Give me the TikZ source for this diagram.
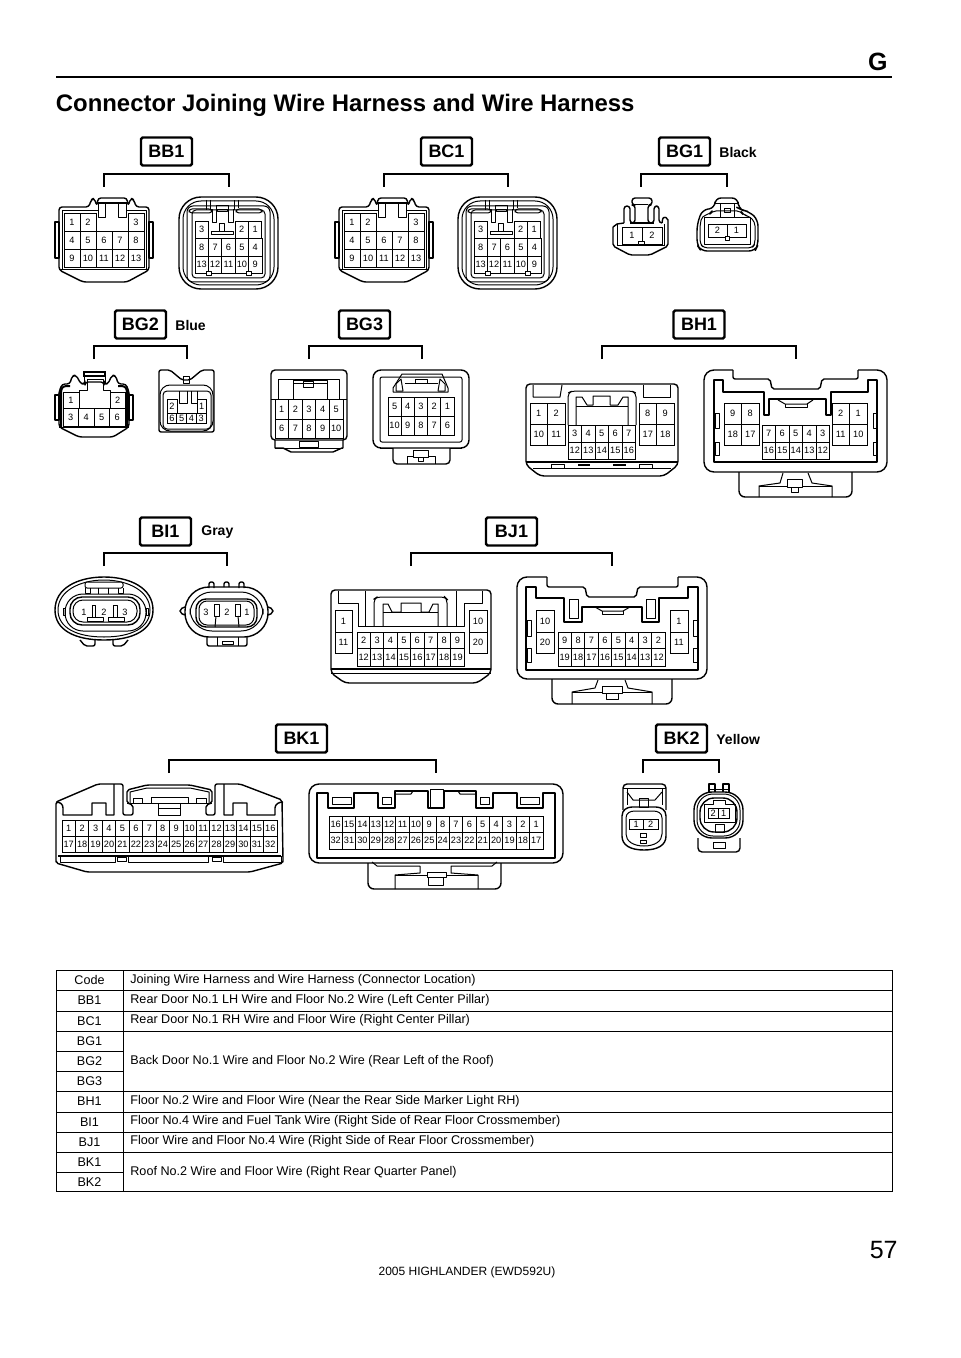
\documentclass[tikz,border=0pt]{standalone}
\usepackage{fontspec}
\setmainfont{Liberation Sans}
\usetikzlibrary{positioning}
\tikzset{
  pin/.style={draw=black,line width=0.4pt,inner sep=0pt,outer sep=0pt,font=\fontsize{4.6}{5}\selectfont},
  shell/.style={line width=0.7pt,line join=round},
  detail/.style={line width=0.5pt,line join=round},
  bracket/.style={line width=0.7pt},
  tagbox/.style={draw=black,line width=1.2pt,rounded corners=0.8pt,minimum width=25.5pt,minimum height=14pt,inner sep=0pt,font=\fontsize{9}{10}\selectfont\bfseries},
  tagnote/.style={anchor=west,inner sep=0pt,font=\fontsize{7}{8}\selectfont\bfseries},
  rowtext/.style={inner sep=0pt,font=\fontsize{6.3}{7}\selectfont},
  bittext/.style={inner sep=0pt,font=\fontsize{4.6}{5}\selectfont},
}
% one row of numbered cells
\newcommand{\pinrow}[6]{
  \foreach \lab [count=\i from 0] in {#6}
    \node[pin,minimum width=#4*0.5pt,minimum height=#5*0.5pt] (#1-\lab) at ({#2+(\i+0.5)*#4},{#3+#5/2}) {\lab};
}
% bracket between the two halves of a connector
\newcommand{\pairbracket}[4]{
  \coordinate (#1l) at (#2,#4);
  \coordinate (#1r) at (#3,#4);
  \draw[bracket] (#1l) -- ++(0,-13) -| (#1r);
}
% 13 pin plug and socket, used twice
\newcommand{\plugThirteen}[1]{
  \draw[shell,rounded corners=1.5pt] (59,258) -- (59,207) -- (89,207) -- (91,200) -- (94,198) -- (97,206) -- (98,198) -- (127,198) -- (128,206) -- (131,198) -- (134,200) -- (136,207) -- (149,207) -- (149,258) -- (149,270) -- (127,282) -- (83,282) -- (59,270) -- cycle;
  \draw[detail] (59,270) -- (149,270);
  \draw[detail] (62,270) -- (62,211) -- (98,211);
  \draw[detail] (127,211) -- (146,211) -- (146,270);
  \draw[shell] (55,222) rectangle (59,258);
  \draw[shell] (149,222) rectangle (153,258);
  \draw[shell] (98,203) -- (127,203);
  \draw[detail] (98,203) -- (98,218) -- (105,218) -- (105,203);
  \draw[detail] (118,203) -- (118,218) -- (126,218) -- (126,203);
  \draw[detail] (96,213) -- (96,231);
  \pinrow{#1}{64}{213}{16}{18}{1,2}
  \pinrow{#1}{128}{213}{16}{18}{3}
  \pinrow{#1}{64}{231}{16}{18}{4,5,6,7,8}
  \pinrow{#1}{64}{249}{16}{18}{9,10,11,12,13}
}
\newcommand{\socketThirteen}[1]{
  \draw[shell,rounded corners=11pt] (179,197) rectangle (278,289);
  \draw[detail,rounded corners=9pt] (183,201) rectangle (274,285);
  \draw[detail,rounded corners=3pt] (187,206) rectangle (270,282);
  \draw[detail,rounded corners=2pt] (192,210) rectangle (265,278);
  \draw[detail,rounded corners=1.5pt] (189,209) rectangle (212,213);
  \draw[detail,rounded corners=1.5pt] (236,209) rectangle (262,213);
  \draw[detail] (206,200) -- (206,210);
  \draw[detail] (210,200) -- (210,210) -- (212,210) -- (212,223) -- (216,223) -- (216,206) -- (228,206) -- (228,223) -- (233,223) -- (233,210) -- (234,210) -- (234,200);
  \draw[detail] (238,200) -- (238,208);
  \draw[detail] (217,210) rectangle (227,212);
  \draw[detail] (211,232) rectangle (233,235);
  \draw[detail] (219,224) rectangle (224,232);
  \pinrow{#1}{195}{221}{13.4}{17.5}{3}
  \pinrow{#1}{235}{221}{13.4}{17.5}{2,1}
  \pinrow{#1}{195}{238.5}{13.4}{17.5}{8,7,6,5,4}
  \pinrow{#1}{195}{256}{13.4}{17.5}{13,12,11,10,9}
  \draw[detail,fill=white] (206,272) rectangle (211,276);
  \draw[detail,fill=white] (246,272) rectangle (251,276);
}
\begin{document}
\begin{tikzpicture}[x=0.5pt,y=-0.5pt]
\useasboundingbox (0,0) rectangle (960,1358);
% page head
\node[anchor=east,inner sep=0pt,font=\fontsize{12.5}{14}\selectfont\bfseries] (pagecode) at (888,62) {G};
\coordinate (rulel) at (56,77);
\coordinate (ruler) at (892,77);
\draw[line width=1.2pt] (rulel) -- (ruler);
\node[anchor=west,inner sep=0pt,font=\fontsize{11.95}{14}\selectfont\bfseries] (title) at (55.5,105) {Connector Joining Wire Harness and Wire Harness};

% BB1
\node[tagbox] (tagBB1) at (166.5,151.5) {BB1};
\pairbracket{bb1}{104}{229}{187}
\plugThirteen{bb1a}
\socketThirteen{bb1b}

% BC1
\node[tagbox] (tagBC1) at (446.5,151.5) {BC1};
\pairbracket{bc1}{384}{508}{187}
\begin{scope}[xshift=140pt]
  \plugThirteen{bc1a}
\end{scope}
\begin{scope}[xshift=139.5pt]
  \socketThirteen{bc1b}
\end{scope}

% BG1
\node[tagbox] (tagBG1) at (684.5,151.5) {BG1};
\node[tagnote] (noteBG1) at (719,152) {Black};
\pairbracket{bg1}{641}{727}{187}
\draw[shell,rounded corners=1pt] (613,227) -- (613,246) -- (630,255) -- (650,255) -- (668,246) -- (668,218) -- (663,217) -- (662,223);
\draw[shell] (613,227) -- (617,224) -- (624,223);
\draw[shell,rounded corners=1.5pt] (624,223) -- (624,206) -- (630,206) -- (630,223) -- (635,223) -- (635,205) -- (632,205) -- (632,198) -- (652,198) -- (652,205) -- (648,205) -- (648,223) -- (654,223) -- (654,206) -- (659,206) -- (659,223) -- (662,223);
\draw[detail] (635,205) -- (648,205);
\draw[detail] (617,224) -- (617,246);
\draw[detail] (664,224) -- (664,246);
\draw[detail] (617,246) -- (664,246);
\draw[shell] (630,223) -- (654,223);
\pinrow{bg1a}{622}{227}{20}{17}{1,2}
\draw[detail,fill=white] (638,242) rectangle (644,245);
\draw[shell,rounded corners=3pt] (697,225) -- (697,245) -- (701,251) -- (755,251) -- (758,245) -- (758,220) -- (750,212) -- (742,210) -- (738,208) -- (738,198) -- (715,198) -- (715,208) -- (702,210) -- cycle;
\draw[detail,rounded corners=2pt] (700,225) -- (700,244) -- (704,248) -- (752,248) -- (755,244) -- (755,222) -- (749,216) -- (743,215) -- (741,211) -- (712,211) -- (710,214) -- (702,216) -- cycle;
\draw[detail] (715,204) -- (738,204);
\draw[detail] (724,209) rectangle (730,213);
\draw[detail] (720,204) -- (720,218) -- (734,218) -- (734,204);
\draw[detail] (704,218) rectangle (750,245);
\pinrow{bg1b}{708}{224}{19}{13}{2,1}
\draw[detail,fill=white] (725,237) rectangle (729,241);

% BG2
\node[tagbox] (tagBG2) at (140.5,324.5) {BG2};
\node[tagnote] (noteBG2) at (175,325) {Blue};
\pairbracket{bg2}{94}{187}{359}
\draw[shell,rounded corners=1.5pt] (59,392) -- (59,427) -- (79,437) -- (113,437) -- (129,427) -- (129,392) -- (126,384) -- (118,384) -- (116,376) -- (112,375) -- (108,384) -- (104,384) -- (104,382) -- (85,382) -- (85,384) -- (81,384) -- (76,375) -- (72,376) -- (70,384) -- (62,384) -- cycle;
\draw[line width=1pt,rounded corners=1.5pt] (61,427) -- (61,390) -- (63,386) -- (70,386);
\draw[line width=1pt,rounded corners=1.5pt] (127,427) -- (127,390) -- (125,386) -- (118,386);
\draw[detail] (59,427) -- (129,427);
\draw[shell] (55,395) rectangle (59,420);
\draw[shell] (129,395) rectangle (133,420);
\draw[line width=1.2pt] (84,372) rectangle (105,376);
\draw[detail] (84,376) -- (84,383);
\draw[detail] (105,376) -- (105,383);
\draw[detail] (79,408) -- (79,390) -- (87,390) -- (87,379) -- (103,379) -- (103,390) -- (110,390) -- (110,408);
\pinrow{bg2a}{63}{392}{16}{16}{1}
\pinrow{bg2a}{110}{392}{15.5}{16}{2}
\pinrow{bg2a}{63}{408}{15.5}{18}{3,4,5,6}
\draw[shell,rounded corners=1pt] (159,432) -- (159,370) -- (170,370) -- (182,380) -- (190,380) -- (202,370) -- (214,370) -- (214,432) -- cycle;
\draw[detail,rounded corners=5pt] (160,385) -- (213,385) -- (213,431) -- (160,431) -- cycle;
\draw[detail,rounded corners=2pt] (163,391) rectangle (211,429);
\draw[detail] (183,376) rectangle (189,383);
\draw[detail] (179,391) -- (179,403) -- (187,403) -- (187,391);
\draw[detail] (191,391) -- (191,403) -- (197,403) -- (197,391);
\pinrow{bg2b}{167}{399}{10}{14}{2}
\pinrow{bg2b}{197}{399}{9.5}{14}{1}
\pinrow{bg2b}{167}{413}{9.8}{10}{6,5,4,3}

% BG3
\node[tagbox] (tagBG3) at (364.5,324.5) {BG3};
\pairbracket{bg3}{309}{422}{359}
\draw[shell,rounded corners=2pt] (271,370) rectangle (347,440);
\draw[detail] (278,399) -- (278,379) -- (339,379) -- (339,399);
\draw[detail] (293,399) -- (293,380) -- (327,380) -- (327,399);
\draw[detail] (293,383) -- (327,383);
\draw[detail] (303,381) rectangle (313,387);
\draw[detail] (271,399) -- (347,399);
\pinrow{bg3a}{275}{399}{13.6}{20}{1,2,3,4,5}
\pinrow{bg3a}{275}{419}{13.6}{19.5}{6,7,8,9,10}
\draw[shell] (275,440) -- (275,448) -- (283,448) -- (291,452) -- (333,452) -- (342,448) -- (343,448) -- (343,440);
\draw[detail] (275,448) -- (343,448);
\draw[detail] (299,441) rectangle (318,447);
\draw[shell,rounded corners=4pt] (373,370) rectangle (469,448);
\draw[detail,rounded corners=1pt] (380,377) rectangle (462,442);
\draw[detail] (393,392) -- (393,388) -- (402,374) -- (442,374) -- (448,388) -- (448,392) -- cycle;
\draw[detail] (396,391) -- (396,384) -- (401,379) -- (403,391) -- cycle;
\draw[detail] (445,391) -- (445,384) -- (440,379) -- (438,391) -- cycle;
\draw[detail] (405,383) -- (438,383);
\draw[detail] (415,379) rectangle (427,383);
\pinrow{bg3b}{388}{397}{13.2}{19}{5,4,3,2,1}
\pinrow{bg3b}{388}{416}{13.2}{19}{10,9,8,7,6}
\draw[shell,rounded corners=2pt] (393,448) -- (393,464) -- (450,464) -- (450,448);
\draw[detail] (407,464) -- (407,456) -- (413,456);
\draw[detail] (428,456) -- (435,456) -- (435,464);
\draw[detail] (413,450) rectangle (428,457);
\draw[detail] (418,457) rectangle (423,461);
\draw[detail] (380,448) -- (393,448);
\draw[detail] (450,448) -- (462,448);

% BH1
\node[tagbox] (tagBH1) at (699,324.5) {BH1};
\pairbracket{bh1}{602}{796}{359}
\draw[shell,rounded corners=2pt] (526,465) -- (526,384) -- (678,384) -- (678,465) -- (664,476) -- (540,476) -- cycle;
\draw[detail] (533,385) -- (533,397) -- (560,397) -- (562,385);
\draw[detail] (643,385) -- (643,397) -- (670,397) -- (670,385);
\draw[detail,rounded corners=2pt] (568,425) -- (568,393) -- (572,391) -- (632,391) -- (636,393) -- (636,425);
\draw[detail] (576,425) -- (576,397) -- (582,397) -- (587,405) -- (593,405) -- (593,396) -- (610,396) -- (610,405) -- (618,405) -- (623,397) -- (628,397) -- (628,425);
\draw[detail] (576,406) -- (628,406);
\pinrow{bh1a}{530}{403}{17.5}{21}{1,2}
\pinrow{bh1a}{530}{424}{17.5}{21}{10,11}
\pinrow{bh1a}{568}{425}{13.5}{17}{3,4,5,6,7}
\pinrow{bh1a}{568}{442}{13.5}{17}{12,13,14,15,16}
\pinrow{bh1a}{639}{403}{17.5}{21}{8,9}
\pinrow{bh1a}{639}{424}{17.5}{21}{17,18}
\draw[shell] (526,462) -- (678,462);
\draw[detail] (533,468) -- (671,468);
\draw[detail] (551,464) rectangle (564,468);
\draw[detail] (639,464) rectangle (652,468);
\draw[line width=1pt] (578,465) -- (590,465);
\draw[line width=1pt] (613,465) -- (626,465);
\draw[shell,rounded corners=5pt] (733,370) -- (704,370) -- (704,472) -- (887,472) -- (887,370) -- (858,370);
\draw[shell,rounded corners=1pt] (733,370) -- (733,379) -- (770,379) -- (772,389) -- (820,389) -- (822,379) -- (858,379) -- (858,370);
\draw[shell] (714,380) -- (723,380) -- (723,392) -- (764,392) -- (764,415) -- (769,415) -- (769,399) -- (826,399) -- (826,415) -- (831,415) -- (831,392) -- (868,392) -- (868,380) -- (877,380) -- (877,462) -- (714,462) -- cycle;
\draw[detail] (778,400) -- (785,404) -- (807,404) -- (813,400);
\draw[detail] (785,404) -- (785,407) -- (807,407) -- (807,404);
\draw[detail] (715,413) rectangle (719,428);
\draw[detail] (715,442) rectangle (719,455);
\draw[detail] (873,413) rectangle (877,428);
\draw[detail] (873,442) rectangle (877,455);
\pinrow{bh1b}{724}{403}{17.5}{21}{9,8}
\pinrow{bh1b}{724}{424}{17.5}{21}{18,17}
\pinrow{bh1b}{762}{425}{13.5}{17}{7,6,5,4,3}
\pinrow{bh1b}{762}{442}{13.5}{17}{16,15,14,13,12}
\pinrow{bh1b}{832}{403}{17.5}{21}{2,1}
\pinrow{bh1b}{832}{424}{17.5}{21}{11,10}
\draw[shell,rounded corners=3pt] (739,472) -- (739,497) -- (852,497) -- (852,472);
\draw[detail] (759,497) -- (759,486) -- (780,483) -- (783,473);
\draw[detail] (832,497) -- (832,486) -- (812,483) -- (808,473);
\draw[detail] (759,486) -- (787,486);
\draw[detail] (802,486) -- (832,486);
\draw[detail] (787,479) rectangle (802,487);
\draw[detail] (791,487) rectangle (798,492);

% BI1
\node[tagbox] (tagBI1) at (165.5,531.5) {BI1};
\node[tagnote] (noteBI1) at (201,532) {Gray};
\pairbracket{bi1}{104}{227}{566}
\draw[shell] (55,610) .. controls (55,588) and (78,577) .. (104,577) .. controls (130,577) and (153,588) .. (153,610) .. controls (153,630) and (133,640) .. (104,640) .. controls (75,640) and (55,630) .. (55,610) -- cycle;
\draw[detail] (58,610) .. controls (58,591) and (80,580) .. (104,580) .. controls (128,580) and (150,591) .. (150,610) .. controls (150,628) and (131,637) .. (104,637) .. controls (77,637) and (58,628) .. (58,610) -- cycle;
\draw[detail,rounded corners=9pt] (65,594) rectangle (146,631);
\draw[shell,rounded corners=6pt] (70,597) rectangle (140,625);
\draw[detail,rounded corners=5pt] (73,600) rectangle (137,622);
\draw[detail,rounded corners=1pt,fill=white] (85,582) rectangle (123,588);
\draw[detail] (85,588) -- (85,593) -- (90,593) -- (90,588);
\draw[detail] (118,588) -- (118,593) -- (123,593) -- (123,588);
\draw[detail] (98,588) -- (98,594);
\draw[detail] (108,588) -- (108,594);
\draw[detail] (92,605) rectangle (95,617);
\draw[detail] (113,605) rectangle (117,617);
\draw[detail] (87,617) rectangle (103,621);
\draw[detail] (108,617) rectangle (124,621);
\draw[detail] (63,608) rectangle (65,615);
\draw[detail] (146,608) rectangle (148,615);
\draw[shell,rounded corners=1pt] (80,640) -- (85,646) -- (95,646) -- (95,640);
\draw[shell,rounded corners=1pt] (113,640) -- (113,646) -- (123,646) -- (128,640);
\node[bittext] (bi1a-1) at (84,612) {1};
\node[bittext] (bi1a-2) at (104,612) {2};
\node[bittext] (bi1a-3) at (125,612) {3};
\draw[shell,rounded corners=12pt] (185,587) rectangle (268,637);
\draw[detail,rounded corners=11pt] (190,592) rectangle (263,631);
\draw[shell,rounded corners=5pt] (196,599) rectangle (257,627);
\draw[detail,rounded corners=4pt] (199,601) rectangle (254,625);
\draw[shell,rounded corners=1pt] (185,607) -- (180,609) -- (180,613) -- (185,615);
\draw[shell,rounded corners=1pt] (268,607) -- (273,609) -- (273,613) -- (268,615);
\draw[shell,rounded corners=1pt] (209,588) -- (209,582) -- (214,582) -- (214,588);
\draw[shell,rounded corners=1pt] (224,587) -- (224,582) -- (229,582) -- (229,587);
\draw[shell,rounded corners=1pt] (239,588) -- (239,582) -- (244,582) -- (244,588);
\draw[shell,rounded corners=1pt] (207,637) -- (207,646) -- (247,646) -- (247,637);
\draw[detail] (217,637) -- (217,646);
\draw[detail] (238,637) -- (238,646);
\draw[detail] (222,641) rectangle (233,644);
\draw[detail] (214,604) rectangle (219,616);
\draw[detail] (235,604) rectangle (240,616);
\draw[detail] (216,616) -- (215,627);
\draw[detail] (238,616) -- (239,627);
\node[bittext] (bi1b-3) at (206,612) {3};
\node[bittext] (bi1b-2) at (227,612) {2};
\node[bittext] (bi1b-1) at (247,612) {1};

% BJ1
\node[tagbox] (tagBJ1) at (511.5,531.5) {BJ1};
\pairbracket{bj1}{411}{612}{566}
\draw[shell,rounded corners=2pt] (331,673) -- (331,590) -- (491,590) -- (491,673) -- (477,683) -- (345,683) -- cycle;
\draw[shell] (331,669) -- (491,669);
\draw[detail] (331,673) -- (491,673);
\draw[detail] (338,591) -- (338,603) -- (358,603) -- (358,626) -- (365,626) -- (365,591);
\draw[detail] (456,591) -- (456,626) -- (464,626) -- (464,603) -- (482,603) -- (482,591);
\draw[detail,rounded corners=2pt] (374,626) -- (374,599) -- (377,597) -- (445,597) -- (447,599) -- (447,626);
\draw[detail] (383,626) -- (383,604) -- (388,604) -- (392,612) -- (401,612) -- (401,603) -- (421,603) -- (421,612) -- (429,612) -- (433,604) -- (438,604) -- (438,626);
\draw[detail] (383,612) -- (438,612);
\draw[detail] (358,626) -- (464,626);
\pinrow{bj1a}{335}{610}{17}{22}{1}
\pinrow{bj1a}{335}{632}{17}{21}{11}
\pinrow{bj1a}{357}{632}{13.4}{16}{2,3,4,5,6,7,8,9}
\pinrow{bj1a}{357}{648}{13.4}{18}{12,13,14,15,16,17,18,19}
\pinrow{bj1a}{469}{610}{18}{22}{10}
\pinrow{bj1a}{469}{632}{18}{21}{20}
\draw[shell,rounded corners=5pt] (547,577) -- (517,577) -- (517,679) -- (707,679) -- (707,577) -- (678,577);
\draw[shell,rounded corners=1pt] (547,577) -- (547,587) -- (585,587) -- (587,597) -- (636,597) -- (638,587) -- (678,587) -- (678,577);
\draw[shell] (526,587) -- (536,587) -- (536,598) -- (564,598) -- (564,622) -- (582,622) -- (582,607) -- (642,607) -- (642,622) -- (659,622) -- (659,598) -- (688,598) -- (688,587) -- (698,587) -- (698,670) -- (526,670) -- cycle;
\draw[detail] (569,599) rectangle (578,618);
\draw[detail] (646,599) rectangle (655,618);
\draw[detail] (595,607) -- (602,611) -- (623,611) -- (630,607);
\draw[detail] (602,611) -- (602,614) -- (623,614) -- (623,611);
\draw[detail] (527,620) rectangle (531,636);
\draw[detail] (527,648) rectangle (531,662);
\draw[detail] (693,620) rectangle (697,636);
\draw[detail] (693,648) rectangle (697,662);
\pinrow{bj1b}{536}{610}{18}{22}{10}
\pinrow{bj1b}{536}{632}{18}{21}{20}
\pinrow{bj1b}{558}{632}{13.4}{16}{9,8,7,6,5,4,3,2}
\pinrow{bj1b}{558}{648}{13.4}{18}{19,18,17,16,15,14,13,12}
\pinrow{bj1b}{670}{610}{18}{22}{1}
\pinrow{bj1b}{670}{632}{18}{21}{11}
\draw[shell,rounded corners=3pt] (552,679) -- (552,704) -- (672,704) -- (672,679);
\draw[detail] (572,704) -- (572,692) -- (595,688) -- (598,680);
\draw[detail] (652,704) -- (652,692) -- (628,688) -- (625,680);
\draw[detail] (572,692) -- (602,692);
\draw[detail] (622,692) -- (652,692);
\draw[detail] (602,686) rectangle (622,693);
\draw[detail] (606,693) rectangle (618,699);

% BK1
\node[tagbox] (tagBK1) at (301.5,738.5) {BK1};
\pairbracket{bk1}{169}{436}{773}
\draw[shell,rounded corners=1pt] (56,860) -- (56,802) -- (98,784) -- (123,784) -- (123,815) -- (133,815) -- (133,805) -- (127,803) -- (127,790) -- (147,785) -- (190,785) -- (212,790) -- (212,803) -- (206,805) -- (206,815) -- (215,815) -- (215,784) -- (240,784) -- (282,800) -- (283,860) -- (283,863) -- (250,872) -- (87,872) -- (56,863) -- cycle;
\draw[shell] (114,784) -- (114,815) -- (106,815) -- (106,803) -- (92,803) -- (92,815) -- (63,815) -- (63,808) .. controls (63,804) and (60,802) .. (56,802);
\draw[shell] (224,784) -- (224,815) -- (233,815) -- (233,803) -- (247,803) -- (247,815) -- (275,815) -- (275,808) .. controls (275,804) and (279,802) .. (283,802);
\draw[detail] (127,803) -- (212,803);
\draw[detail] (130,803) -- (130,792) -- (147,788) -- (190,788) -- (209,792) -- (209,803);
\draw[detail] (151,797) rectangle (188,803);
\draw[detail] (133,798) rectangle (142,803);
\draw[detail] (196,798) rectangle (206,803);
\draw[detail] (158,803) -- (158,815) -- (180,815) -- (180,803);
\draw[detail] (158,808) -- (180,808);
\pinrow{bk1a}{62}{820}{13.44}{16}{1,2,3,4,5,6,7,8,9,10,11,12,13,14,15,16}
\pinrow{bk1a}{62}{836}{13.44}{16}{17,18,19,20,21,22,23,24,25,26,27,28,29,30,31,32}
\draw[shell] (58,856) -- (281,856);
\draw[detail] (60,856) -- (60,862) -- (115,862) -- (115,856);
\draw[detail] (128,856) -- (128,862) -- (208,862) -- (208,856);
\draw[detail] (223,856) -- (223,862) -- (281,862) -- (281,856);
\draw[detail] (117,857) rectangle (126,861);
\draw[detail] (212,857) rectangle (221,861);
\draw[shell,rounded corners=5pt] (309,784) rectangle (563,863);
\draw[shell] (317,793) -- (328,793) -- (328,808) -- (354,808) -- (354,793) -- (378,793) -- (378,808) -- (395,808) -- (395,791) -- (428,791) -- (428,808) -- (444,808) -- (444,791) -- (476,791) -- (476,808) -- (493,808) -- (493,793) -- (517,793) -- (517,808) -- (543,808) -- (543,793) -- (555,793) -- (555,858) -- (317,858) -- cycle;
\draw[detail] (332,797) rectangle (351,804);
\draw[detail] (382,797) rectangle (391,804);
\draw[detail] (480,797) rectangle (489,804);
\draw[detail] (520,797) rectangle (539,804);
\draw[detail] (430,789) rectangle (443,807);
\draw[detail] (395,794) -- (411,794) -- (413,791);
\draw[detail] (476,794) -- (460,794) -- (458,791);
\pinrow{bk1b}{329}{816}{13.37}{16.5}{16,15,14,13,12,11,10,9,8,7,6,5,4,3,2,1}
\pinrow{bk1b}{329}{832.5}{13.37}{16.5}{32,31,30,29,28,27,26,25,24,23,22,21,20,19,18,17}
\draw[shell,rounded corners=3pt] (368,863) -- (368,889) -- (501,889) -- (501,863);
\draw[detail] (372,862) -- (377,866) -- (420,866) -- (420,873) -- (395,875) -- (395,889);
\draw[detail] (497,862) -- (492,866) -- (451,866) -- (451,873) -- (478,875) -- (478,889);
\draw[detail] (395,875) -- (427,875);
\draw[detail] (446,875) -- (478,875);
\draw[detail] (427,872) rectangle (446,877);
\draw[detail] (428,877) rectangle (443,885);

% BK2
\node[tagbox] (tagBK2) at (681.5,738.5) {BK2};
\node[tagnote] (noteBK2) at (716,739) {Yellow};
\pairbracket{bk2}{643}{719}{773}
\draw[shell,rounded corners=2pt] (623,810) -- (623,784) -- (666,784) -- (666,810);
\draw[detail] (623,788) -- (666,788);
\draw[detail] (627,792) -- (633,800) -- (655,800) -- (662,792);
\draw[detail] (627,788) -- (627,805);
\draw[detail] (662,788) -- (662,805);
\draw[shell] (622,816) .. controls (622,810) and (627,807) .. (632,807) -- (656,807) .. controls (661,807) and (666,810) .. (666,816) -- (666,836) .. controls (666,845) and (658,850) .. (644,850) .. controls (630,850) and (622,845) .. (622,836) -- cycle;
\draw[detail] (626,818) .. controls (626,813) and (630,811) .. (635,811) -- (653,811) .. controls (658,811) and (662,813) .. (662,818) -- (662,834) .. controls (662,841) and (655,846) .. (644,846) .. controls (633,846) and (626,841) .. (626,834) -- cycle;
\draw[detail] (639,798) rectangle (648,807);
\pinrow{bk2a}{629}{819}{14.5}{10}{1,2}
\draw[detail] (640,833) rectangle (646,837);
\draw[detail] (640,840) rectangle (646,843);
\draw[shell] (709,792) -- (709,784) -- (715,784) -- (715,792);
\draw[shell] (723,792) -- (723,784) -- (729,784) -- (729,792);
\draw[detail] (708,789) -- (730,789);
\draw[shell,rounded corners=9pt] (694,792) rectangle (743,838);
\draw[detail,rounded corners=8pt] (697,794) rectangle (740,836);
\draw[shell,rounded corners=7pt] (700,798) rectangle (737,832);
\draw[shell,rounded corners=2pt] (698,838) -- (698,852) -- (740,852) -- (740,838);
\draw[detail] (713,842) rectangle (725,848);
\draw[detail] (704,804) -- (713,804) -- (713,800) -- (725,800) -- (725,804) -- (735,804) -- (735,822) -- (704,822) -- cycle;
\draw[detail] (715,824) rectangle (724,832);
\pinrow{bk2b}{708}{808}{10.5}{10}{2,1}

% table
\coordinate (tabtl) at (56,970);
\coordinate (tabbr) at (892,1191);
\coordinate (tabsep) at (123,970);
\draw[line width=0.5pt] (tabtl) rectangle (tabbr);
\draw[line width=0.5pt] (tabsep) -- (123,1191);
\foreach \y in {990,1011,1031,1091,1112,1132,1152}
  \draw[line width=0.5pt] (56,\y) -- (892,\y);
\foreach \y in {1051,1071,1172}
  \draw[line width=0.5pt] (56,\y) -- (123,\y);
\foreach \code/\y in {Code/980,BB1/1000,BC1/1021,BG1/1041,BG2/1061,BG3/1081,BH1/1101,BI1/1122,BJ1/1142,BK1/1162,BK2/1182}
  \node[rowtext] (code\code) at (89.5,\y) {\code};
\foreach \desc/\y/\nm in {Joining Wire Harness and Wire Harness (Connector Location)/980/a,Rear Door No.1 LH Wire and Floor No.2 Wire (Left Center Pillar)/1000/b,Rear Door No.1 RH Wire and Floor Wire (Right Center Pillar)/1020/c,Back Door No.1 Wire and Floor No.2 Wire (Rear Left of the Roof)/1061/d,Floor No.2 Wire and Floor Wire (Near the Rear Side Marker Light RH)/1101/e,Floor No.4 Wire and Fuel Tank Wire (Right Side of Rear Floor Crossmember)/1121/f,Floor Wire and Floor No.4 Wire (Right Side of Rear Floor Crossmember)/1141/g,Roof No.2 Wire and Floor Wire (Right Rear Quarter Panel)/1172/h}
  \node[rowtext,anchor=west] (desc\nm) at (130,\y) {\desc};

% page foot
\node[anchor=east,inner sep=0pt,font=\fontsize{12.5}{14}\selectfont] (pagenum) at (898,1250) {57};
\node[inner sep=0pt,font=\fontsize{6}{7}\selectfont] (footer) at (467,1272) {2005 HIGHLANDER (EWD592U)};
\end{tikzpicture}
\end{document}
